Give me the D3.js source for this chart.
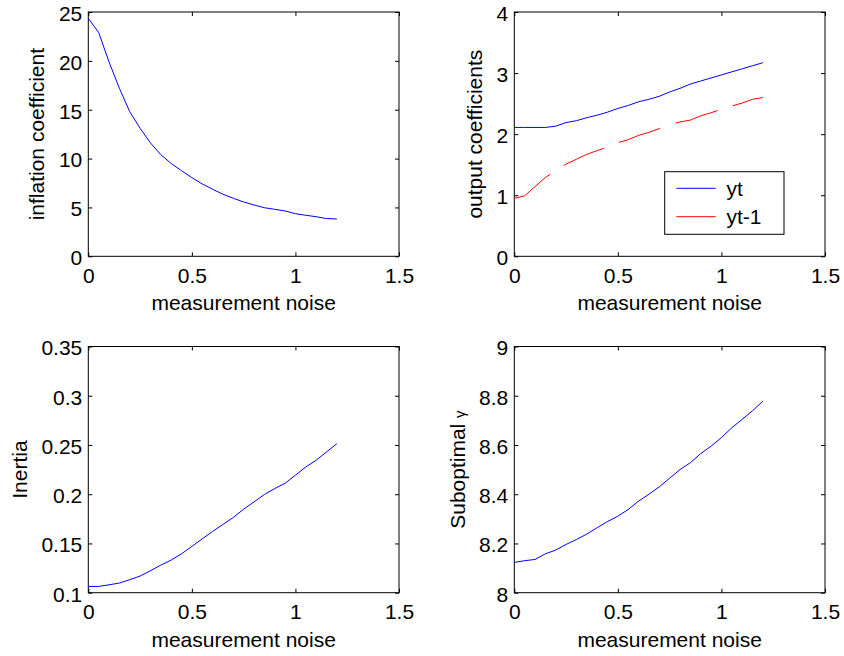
<!DOCTYPE html>
<html>
<head>
<meta charset="utf-8">
<script src="https://cdn.jsdelivr.net/npm/d3@7"></script>
<style>
  body { margin: 0; background: #fff; }
  text { font-family: "Liberation Sans", Arial, Helvetica, sans-serif; fill: #000; }
</style>
</head>
<body>
<svg id="chart" width="844" height="656"></svg>
<script>
// measurement noise grid
var noise = [0, 0.05, 0.1, 0.15, 0.2, 0.25, 0.3, 0.35, 0.4, 0.45, 0.5, 0.55, 0.6,
             0.65, 0.7, 0.75, 0.8, 0.85, 0.9, 0.95, 1.0, 1.05, 1.1, 1.15, 1.2];

var inflation = [24.35, 22.9, 19.9, 17.2, 14.8, 13.1, 11.6, 10.4, 9.5, 8.76, 8.05, 7.4, 6.86,
                 6.35, 5.94, 5.56, 5.25, 4.97, 4.81, 4.64, 4.36, 4.2, 4.05, 3.86, 3.82];

var outputYt = [2.11, 2.11, 2.11, 2.11, 2.13, 2.19, 2.22, 2.27, 2.31, 2.36, 2.42, 2.47, 2.53,
                2.57, 2.62, 2.69, 2.75, 2.82, 2.87, 2.92, 2.97, 3.02, 3.07, 3.12, 3.17];

var outputYt1 = [0.95, 0.99, 1.14, 1.29, 1.40, 1.51, 1.59, 1.67, 1.73, 1.79, 1.86, 1.91, 1.98,
                 2.03, 2.09, 2.15, 2.20, 2.23, 2.30, 2.35, 2.41, 2.46, 2.51, 2.57, 2.60];

var inertia = [0.1064, 0.1064, 0.108, 0.1098, 0.1132, 0.1169, 0.1223, 0.128, 0.1331, 0.1395,
               0.147, 0.1547, 0.1622, 0.1693, 0.1764, 0.1848, 0.1922, 0.1997, 0.2057, 0.2111,
               0.2193, 0.2277, 0.2345, 0.2429, 0.2514];

var gamma = [8.123, 8.13, 8.135, 8.158, 8.173, 8.196, 8.216, 8.238, 8.264, 8.289, 8.311, 8.338,
             8.372, 8.4, 8.43, 8.465, 8.5, 8.528, 8.565, 8.595, 8.63, 8.67, 8.704, 8.739, 8.778];

var xTicks = [0, 0.5, 1, 1.5];
var inflationTicks = [0, 5, 10, 15, 20, 25];
var outputTicks = [0, 1, 2, 3, 4];
var inertiaTicks = [0.1, 0.15, 0.2, 0.25, 0.3, 0.35];
var gammaTicks = [8, 8.2, 8.4, 8.6, 8.8, 9];
var legendLabels = ["yt", "yt-1"];

var svg = d3.select("#chart");
svg.append("rect").attr("width", 844).attr("height", 656).attr("fill", "#fff");

var FONT = 21;

function Panel(svg, dims, yTicks, ylabel) {
  this.dims = dims;
  this.g = svg.append("g")
    .attr("transform", `translate(${dims.x}, ${dims.y})`);

  this.x = d3.scaleLinear().domain([xTicks[0], xTicks[xTicks.length - 1]]).range([0, dims.width]);
  this.y = d3.scaleLinear().domain([yTicks[0], yTicks[yTicks.length - 1]]).range([dims.height, 0]);

  var fmt = function(d) { return String(d); };

  var bottom = this.g.append("g")
    .attr("transform", `translate(0, ${dims.height})`)
    .call(d3.axisBottom(this.x).tickValues(xTicks).tickFormat(fmt)
      .tickSizeInner(-4).tickSizeOuter(0).tickPadding(11.5));
  var left = this.g.append("g")
    .call(d3.axisLeft(this.y).tickValues(yTicks).tickFormat(fmt)
      .tickSizeInner(-4).tickSizeOuter(0).tickPadding(6));
  this.g.append("g")
    .call(d3.axisTop(this.x).tickValues(xTicks).tickFormat("")
      .tickSizeInner(-4).tickSizeOuter(0));
  this.g.append("g")
    .attr("transform", `translate(${dims.width}, 0)`)
    .call(d3.axisRight(this.y).tickValues(yTicks).tickFormat("")
      .tickSizeInner(-4).tickSizeOuter(0));

  this.g.selectAll(".domain").remove();
  this.g.selectAll(".tick line").attr("stroke", "#000");
  this.g.selectAll(".tick text")
    .style("font-size", FONT + "px")
    .attr("fill", "#000");
  left.selectAll(".tick text").attr("dy", "0.4em");

  this.g.append("rect")
    .attr("width", dims.width)
    .attr("height", dims.height)
    .attr("fill", "none")
    .attr("stroke", "#000")
    .attr("stroke-width", 1);

  // x label
  this.g.append("text")
    .attr("x", dims.width / 2)
    .attr("y", dims.height + 54)
    .attr("text-anchor", "middle")
    .style("font-size", FONT + "px")
    .text("measurement noise");

  // y label, placed left of the widest tick label
  var maxW = 0;
  left.selectAll(".tick text").each(function() {
    maxW = Math.max(maxW, this.getComputedTextLength());
  });
  var yl = this.g.append("text")
    .attr("transform", `translate(${-(6 + maxW + 14.5)}, ${dims.height / 2}) rotate(-90)`)
    .attr("text-anchor", "middle")
    .style("font-size", FONT + "px");
  if (ylabel.sub) {
    yl.append("tspan").text(ylabel.text + " ");
    yl.append("tspan").style("font-size", "15px").text(ylabel.sub);
  } else {
    yl.text(ylabel.text);
  }

  this.plot = function(values, color, dash) {
    var line = d3.line()
      .x(function(d, i) { return this.x(noise[i]); }.bind(this))
      .y(function(d) { return this.y(d); }.bind(this));
    this.g.append("path")
      .datum(values)
      .attr("d", line)
      .attr("fill", "none")
      .attr("stroke", color)
      .attr("stroke-width", 1)
      .attr("stroke-dasharray", dash || null);
  };
}

var W = 310.7, H = 244.3, H2 = 246.2;
var p1 = new Panel(svg, {x: 88.3, y: 12, width: W, height: H}, inflationTicks, {text: "inflation coefficient"});
var p2 = new Panel(svg, {x: 514.3, y: 12, width: W, height: H}, outputTicks, {text: "output coefficients"});
var p3 = new Panel(svg, {x: 88.3, y: 346.5, width: W, height: H2}, inertiaTicks, {text: "Inertia"});
var p4 = new Panel(svg, {x: 514.3, y: 346.5, width: W, height: H2}, gammaTicks, {text: "Suboptimal", sub: "\u03b3"});

p1.plot(inflation, "#0000ff");
p2.plot(outputYt, "#0000ff");
p2.plot(outputYt1, "#ff0000", "44,16");
p3.plot(inertia, "#0000ff");
p4.plot(gamma, "#0000ff");

// legend in the output panel
var legendColors = ["#0000ff", "#ff0000"];
var lg = p2.g.append("g")
  .attr("transform", `translate(${W - 160.3}, ${H - 84.6})`);
lg.append("rect")
  .attr("width", 119.3).attr("height", 62.6)
  .attr("fill", "#fff").attr("stroke", "#000").attr("stroke-width", 1);
legendLabels.forEach(function(name, i) {
  var yy = 16.6 + i * 28.4;
  lg.append("line")
    .attr("x1", 11.7).attr("x2", 51)
    .attr("y1", yy).attr("y2", yy)
    .attr("stroke", legendColors[i]).attr("stroke-width", 1);
  lg.append("text")
    .attr("x", 61.7).attr("y", yy + 7.5)
    .style("font-size", FONT + "px")
    .text(name);
});
</script>
</body>
</html>
